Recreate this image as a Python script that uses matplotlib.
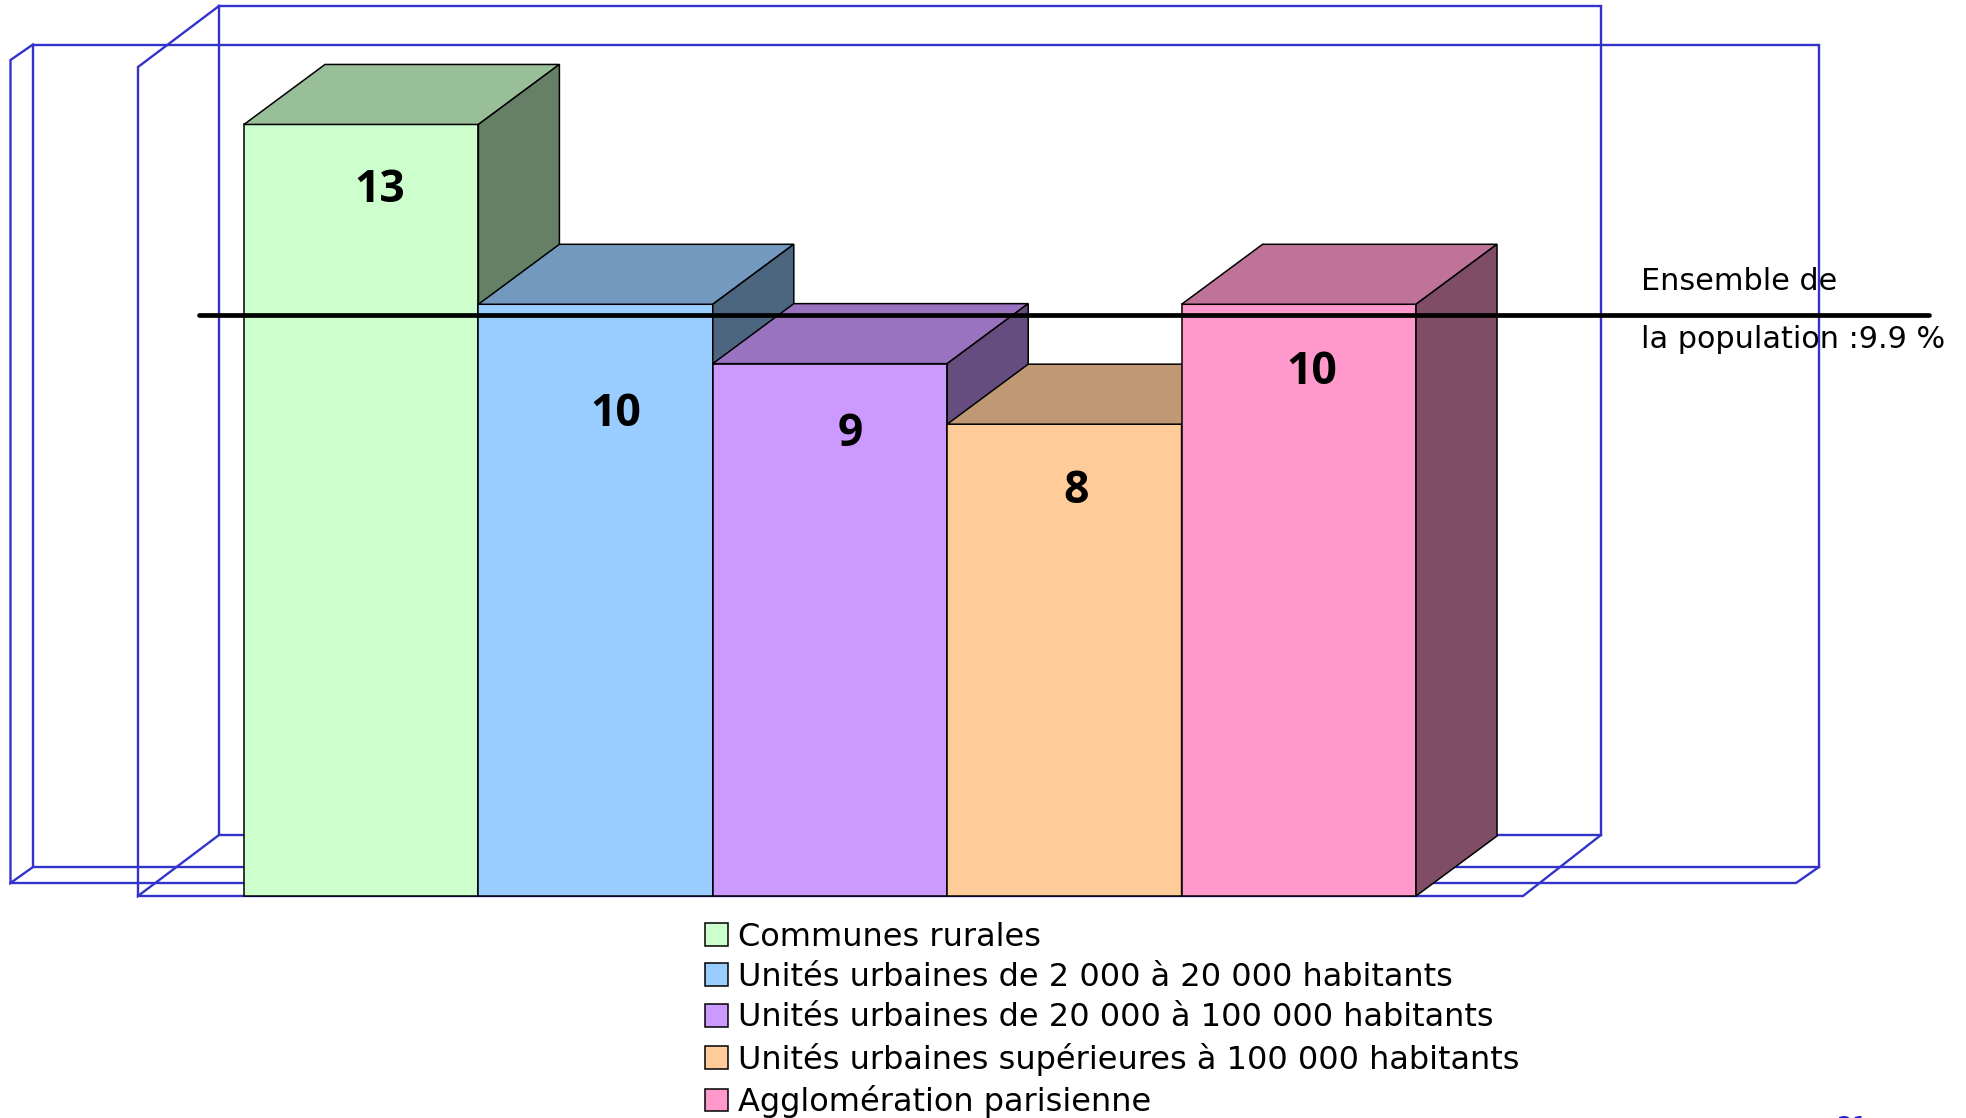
import matplotlib
matplotlib.use('Agg')
import matplotlib.pyplot as plt
from matplotlib.patches import Patch, Polygon

# values (bar heights are a hair under the rounded labels)
categories = ['Communes rurales',
              'Unités urbaines de 2 000 à 20 000 habitants',
              'Unités urbaines de 20 000 à 100 000 habitants',
              'Unités urbaines supérieures à 100 000 habitants',
              'Agglomération parisienne']
values = [13, 9.97, 8.97, 7.95, 9.97]
value_labels = ['13', '10', '9', '8', '10']
average_line = 9.79  # the line is hand-placed a little below the 9.9 it is labelled with
average_text = ['Ensemble de', 'la population :9.9 %']
page_number = '21'  # only the top sliver shows in the original, digits are a guess
colors = ['#CCFFCC', '#99CCFF', '#CC99FF', '#FFCC99', '#FF99CC']
top_colors = ['#99BF99', '#7399BF', '#9973BF', '#BF9973', '#BF7399']
side_colors = ['#668066', '#4D6680', '#664D80', '#80664D', '#804D66']

# layout, in pixels of the output
W, H = 1966, 1118
BASE_X, BASE_Y = 244, 896
BAR_W, UNIT_H = 234.4, 59.35
DEPTH_X, DEPTH_Y = 81 / BAR_W, 60 / UNIT_H
FONT = 'Open Sans'
TEXT_FONT = 'DejaVu Sans'
FRAME = '#3333CC'


def dx(px):
    return (px - BASE_X) / BAR_W


def dy(py):
    return (BASE_Y - py) / UNIT_H


def frame_line(ax, xs, ys):
    ax.plot([dx(x) for x in xs], [dy(y) for y in ys], color=FRAME, lw=1.7, zorder=1,
            solid_joinstyle='miter')


fig = plt.figure(figsize=(W / 100, H / 100), dpi=100)
ax = fig.add_axes([0, 0, 1, 1])
ax.set_xlim(dx(0), dx(W))
ax.set_ylim(dy(H), dy(0))
ax.axis('off')

# the two wire frames behind the bars
frame_line(ax, [33, 1819, 1819, 33, 33], [44.5, 44.5, 867, 867, 44.5])
frame_line(ax, [33, 10.5, 10.5, 33], [44.5, 60, 883, 867])
frame_line(ax, [10.5, 1796, 1819], [883, 883, 867])
frame_line(ax, [219, 1601, 1601, 219, 219], [6, 6, 835, 835, 6])
frame_line(ax, [219, 138, 138, 219], [6, 67, 896, 835])
frame_line(ax, [138, 1523, 1601], [896, 896, 835])

# bars, left to right so each one overlaps the side of the one before
for i, v in enumerate(values):
    ax.bar(i, v, width=1, align='edge', color=colors[i], edgecolor='black', lw=1.1, zorder=2 + i)
    ax.add_patch(Polygon([(i, v), (i + DEPTH_X, v + DEPTH_Y), (i + 1 + DEPTH_X, v + DEPTH_Y), (i + 1, v)],
                         facecolor=top_colors[i], edgecolor='black', lw=1.1, zorder=2 + i))
    ax.add_patch(Polygon([(i + 1, 0), (i + 1 + DEPTH_X, DEPTH_Y), (i + 1 + DEPTH_X, v + DEPTH_Y), (i + 1, v)],
                         facecolor=side_colors[i], edgecolor='black', lw=1.1, zorder=2 + i))

# value labels sit off-centre in the original
label_px = [(380, 184.5), (615.5, 408.5), (850, 429), (1075.6, 486), (1312, 367)]
for (px, py), txt in zip(label_px, value_labels):
    ax.text(dx(px), dy(py), txt, ha='center', va='center_baseline', family=FONT,
            fontweight='bold', fontsize=32, color='black', zorder=10)

ax.plot([dx(199), dx(1929)], [average_line, average_line], color='black', lw=3.4,
        solid_capstyle='round', zorder=9)

ax.text(dx(1641), dy(290), average_text[0], family=TEXT_FONT, fontsize=21.8, color='black', zorder=10)
ax.text(dx(1641), dy(348.5), average_text[1], family=TEXT_FONT, fontsize=21.8, color='black', zorder=10)

handles = [Patch(facecolor=c, edgecolor='black', lw=1.1) for c in colors]
ax.legend(handles, categories, loc='upper left', bbox_to_anchor=(705 / W, 1 - 921.5 / H),
          frameon=False, prop={'family': TEXT_FONT, 'size': 23}, handlelength=0.72, handleheight=0.72,
          handletextpad=0.3, labelspacing=0.295, borderpad=0, borderaxespad=0)

# page number, cut off by the bottom edge as in the original
ax.text(dx(1852), dy(1115), page_number, family=TEXT_FONT, fontsize=18, color='#2222CC', ha='center', va='top')

fig.savefig('out.png', dpi=100)
